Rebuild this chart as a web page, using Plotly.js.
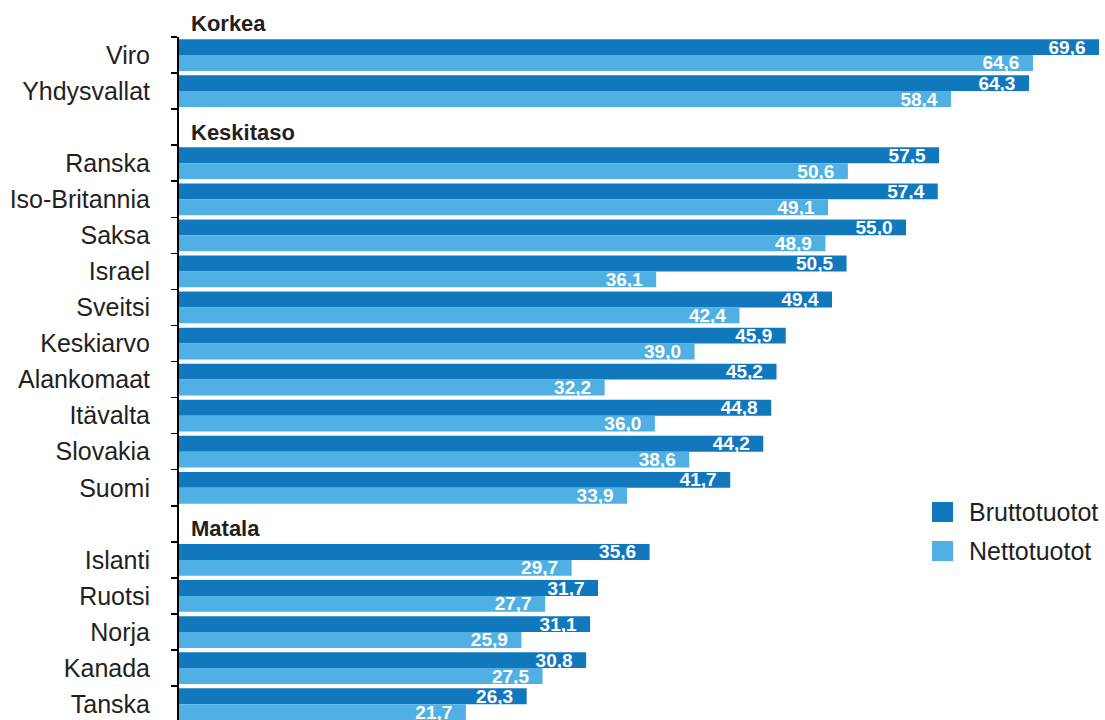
<!DOCTYPE html>
<html>
<head>
<meta charset="utf-8">
<script src="https://cdn.plot.ly/plotly-3.0.1.min.js"></script>
<style>
  html, body { margin: 0; padding: 0; background: #ffffff; }
  #chart { width: 1105px; height: 720px; }
</style>
</head>
<body>
<div id="chart"></div>
<script>
// Group headers
const groupNames = ['Korkea', 'Keskitaso', 'Matala'];

// Countries per group (top to bottom)
const countriesHigh = ['Viro', 'Yhdysvallat'];
const countriesMid = ['Ranska', 'Iso-Britannia', 'Saksa', 'Israel', 'Sveitsi', 'Keskiarvo',
                      'Alankomaat', 'Itävalta', 'Slovakia', 'Suomi'];
const countriesLow = ['Islanti', 'Ruotsi', 'Norja', 'Kanada', 'Tanska'];

// Bruttotuotot
const bruttoHigh = [69.6, 64.3];
const bruttoMid = [57.5, 57.4, 55.0, 50.5, 49.4, 45.9, 45.2, 44.8, 44.2, 41.7];
const bruttoLow = [35.6, 31.7, 31.1, 30.8, 26.3];

// Nettotuotot
const nettoHigh = [64.6, 58.4];
const nettoMid = [50.6, 49.1, 48.9, 36.1, 42.4, 39.0, 32.2, 36.0, 38.6, 33.9];
const nettoLow = [29.7, 27.7, 25.9, 27.5, 21.7];

const seriesNames = ['Bruttotuotot', 'Nettotuotot'];
const colors = ['#1278be', '#50b0e3'];

// Build category list with blank spacer rows for the group headers
const gapMid = ' ';
const gapLow = '  ';
const categories = [].concat(countriesHigh, [gapMid], countriesMid, [gapLow], countriesLow);
const brutto = [].concat(bruttoHigh, [null], bruttoMid, [null], bruttoLow);
const netto = [].concat(nettoHigh, [null], nettoMid, [null], nettoLow);

const FONT = '"Liberation Sans", Arial, Helvetica, sans-serif';
const textCol = '#231f20';

function barTrace(vals, i) {
  return {
    type: 'bar',
    orientation: 'h',
    y: categories,
    x: vals,
    name: seriesNames[i],
    marker: { color: colors[i], line: { width: 0 } },
    texttemplate: '%{x:.1f}\u00a0\u00a0',
    textposition: 'inside',
    insidetextanchor: 'end',
    textangle: 0,
    constraintext: 'none',
    textfont: { family: FONT, size: 19, color: '#ffffff', weight: 'bold' },
    hoverinfo: 'skip',
    showlegend: false
  };
}

const data = [barTrace(brutto, 0), barTrace(netto, 1)];

const headerFont = { family: FONT, size: 22, color: textCol };
const annotations = [
  {
    text: '<b>' + groupNames[0] + '</b>',
    xref: 'x', yref: 'paper', x: 0, y: 1,
    xanchor: 'left', yanchor: 'middle', xshift: 10, yshift: 14,
    showarrow: false, font: headerFont
  },
  {
    text: '<b>' + groupNames[1] + '</b>',
    xref: 'x', yref: 'y', x: 0, y: gapMid,
    xanchor: 'left', yanchor: 'middle', xshift: 10, yshift: -5,
    showarrow: false, font: headerFont
  },
  {
    text: '<b>' + groupNames[2] + '</b>',
    xref: 'x', yref: 'y', x: 0, y: gapLow,
    xanchor: 'left', yanchor: 'middle', xshift: 10, yshift: -5,
    showarrow: false, font: headerFont
  }
];

// Custom legend
const legendY = [[0.3192, 0.2899], [0.2621, 0.2328]];
const shapes = [];
seriesNames.forEach((n, i) => {
  shapes.push({
    type: 'rect', xref: 'paper', yref: 'paper',
    x0: 0.8132, x1: 0.8359, y0: legendY[i][1], y1: legendY[i][0],
    fillcolor: colors[i], line: { width: 0 }
  });
  annotations.push({
    text: n, xref: 'paper', yref: 'paper',
    x: 0.8505, y: (legendY[i][0] + legendY[i][1]) / 2,
    xanchor: 'left', yanchor: 'middle', showarrow: false,
    font: { family: FONT, size: 25, color: textCol }
  });
});

const layout = {
  width: 1105, height: 720,
  margin: { l: 179, r: 0, t: 37, b: 0, pad: 0 },
  paper_bgcolor: '#ffffff', plot_bgcolor: '#ffffff',
  barmode: 'group',
  bargap: 0.12,
  bargroupgap: 0,
  separators: ', ',
  font: { family: FONT, color: textCol },
  xaxis: {
    range: [0, 70.05],
    visible: false,
    showgrid: false, zeroline: false
  },
  yaxis: {
    type: 'category',
    categoryorder: 'array',
    categoryarray: categories,
    range: [18.44, -0.5],
    showline: true, linecolor: '#000000', linewidth: 2,
    ticks: 'outside', tickson: 'boundaries', ticklen: 6, tickwidth: 1.5, tickcolor: '#000000',
    ticklabelstandoff: 22,
    tickfont: { family: FONT, size: 25, color: textCol },
    showgrid: false, zeroline: false
  },
  annotations: annotations,
  shapes: shapes,
  showlegend: false
};

Plotly.newPlot('chart', data, layout, { staticPlot: true, displayModeBar: false });
</script>
</body>
</html>
